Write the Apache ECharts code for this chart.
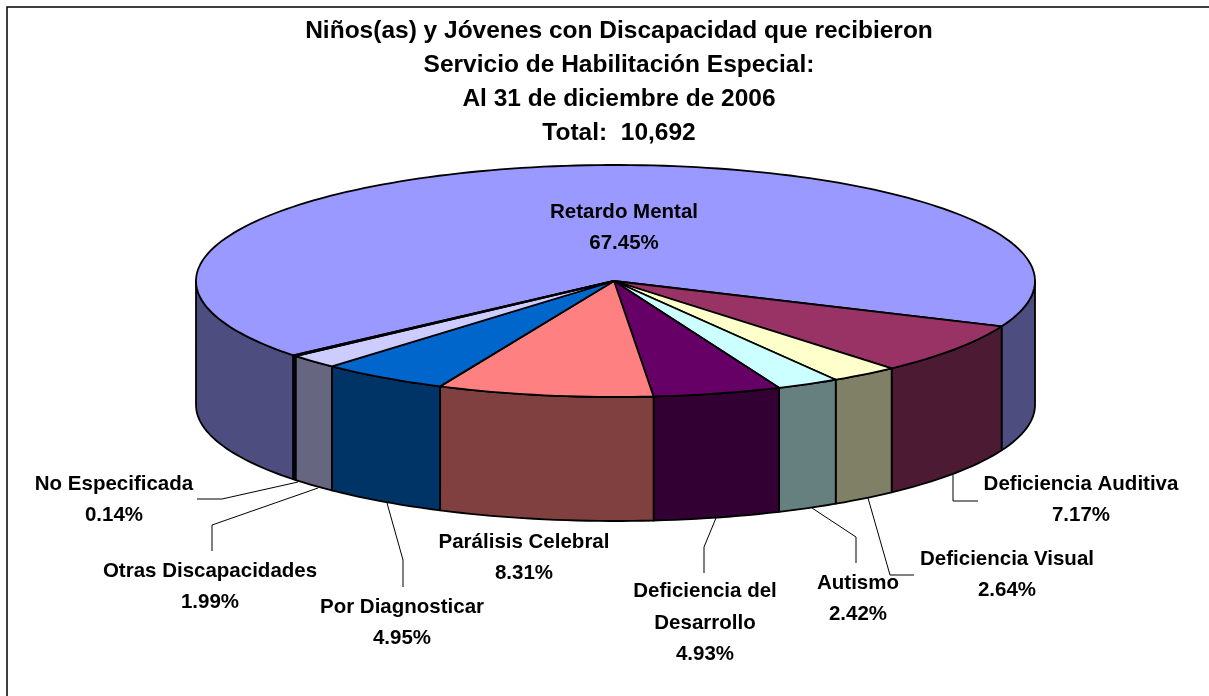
<!DOCTYPE html>
<html><head><meta charset="utf-8">
<style>html,body{margin:0;padding:0;background:#fff}#c{width:1209px;height:696px}</style>
<script src="https://cdn.jsdelivr.net/npm/echarts@6/dist/echarts.min.js"></script>
</head><body><div id="c"></div>
<script>
const titleLines = ['Niños(as) y Jóvenes con Discapacidad que recibieron','Servicio de Habilitación Especial:','Al 31 de diciembre de 2006','Total:  10,692'];
const categories = ['Retardo Mental','Deficiencia Auditiva','Deficiencia Visual','Autismo','Deficiencia del\nDesarrollo','Parálisis Celebral','Por Diagnosticar','Otras Discapacidades','No Especificada'];
const percents = [67.45,7.17,2.64,2.42,4.93,8.31,4.95,1.99,0.14];
const topColors = ['#9999FF','#993366','#FFFFCC','#CCFFFF','#660066','#FF8080','#0066CC','#CCCCFF','#000080'];
const wallColors = ['#4D4D80','#4D1A33','#808066','#668080','#330033','#804040','#003366','#666680','#000040'];
// layout only
const labelCenters = [[624,228],[1081,500],[1007,575],[858,599],[705,623],[524,558],[402,623],[210,587],[114,500]];
const leaders = [null,[[953,475],[953,501],[978,501]],[[868,498],[890,575],[914,575]],[[812,508],[856,537],[856,563]],[[716,518],[704,547],[704,573]],null,[[387,503],[403,560],[403,587]],[[318,488],[212,525],[212,551]],[[298,482],[222,499],[197,499]]];
const pie = {cx:615.5, cy:281, rx:419.5, ry:116, depth:124, zeroDeg:-219.8};

const total = percents.reduce((a,b)=>a+b,0);
const rad = d=>d*Math.PI/180;
const pt = (deg,dy=0)=>[pie.cx+pie.rx*Math.cos(rad(deg)), pie.cy+dy+pie.ry*Math.sin(rad(deg))];
function arc(a,b,dy){const n=Math.max(2,Math.ceil(Math.abs(b-a)/1.5));const out=[];for(let i=0;i<=n;i++)out.push(pt(a+(b-a)*i/n,dy));return out;}
function frontRanges(a,b){const r=[];for(let k=-2;k<=2;k++){const lo=Math.max(a,k*360),hi=Math.min(b,k*360+180);if(hi>lo)r.push([lo,hi]);}return r;}

function renderItem(params,api){
  const i=params.dataIndex, val=api.value(0);
  let before=0; for(let j=0;j<i;j++) before+=percents[j];
  const a=pie.zeroDeg+before/total*360, b=a+val/total*360;
  const kids=[];
  frontRanges(a,b).forEach(([lo,hi])=>{
    kids.push({type:'polygon',shape:{points:arc(lo,hi,0).concat(arc(hi,lo,pie.depth))},
      style:{fill:wallColors[i],stroke:'#000',lineWidth:1.8,lineJoin:'round'}});
  });
  kids.push({type:'polygon',shape:{points:[[pie.cx-1.5,pie.cy]].concat(arc(a,b,0))},
    style:{fill:topColors[i],stroke:'#000',lineWidth:1.8,lineJoin:'round'}});
  return {type:'group',children:kids};
}
function renderLabel(params,api){
  const i=params.dataIndex, c=labelCenters[i], kids=[];
  if(leaders[i]) kids.push({type:'polyline',shape:{points:leaders[i]},style:{fill:null,stroke:'#000',lineWidth:1}});
  kids.push({type:'text',x:c[0],y:c[1],style:{text:categories[i]+'\n'+api.value(0).toFixed(2)+'%',
    fill:'#000',font:'bold 20.5px "Liberation Sans",Arial,sans-serif',lineHeight:31.5,align:'center',verticalAlign:'middle'}});
  return {type:'group',children:kids};
}
const chart=echarts.init(document.getElementById('c'),null,{renderer:'canvas'});
const rows=percents.map(v=>[v]);
chart.setOption({
  animation:false,
  backgroundColor:'#fff',
  title:{text:titleLines.join('\n'),left:614,top:9,textAlign:'center',
    textStyle:{fontFamily:'"Liberation Sans",Arial,sans-serif',fontWeight:'bold',fontSize:24.5,lineHeight:34,color:'#000'}},
  graphic:[{type:'polyline',shape:{points:[[7,696],[7,7],[1209,7]]},style:{fill:null,stroke:'#000',lineWidth:1.5},silent:true,z:-1}],
  series:[
    {type:'custom',coordinateSystem:'none',renderItem,data:rows,silent:true,z:2},
    {type:'custom',coordinateSystem:'none',renderItem:renderLabel,data:rows,silent:true,z:3}
  ]
});
</script></body></html>
